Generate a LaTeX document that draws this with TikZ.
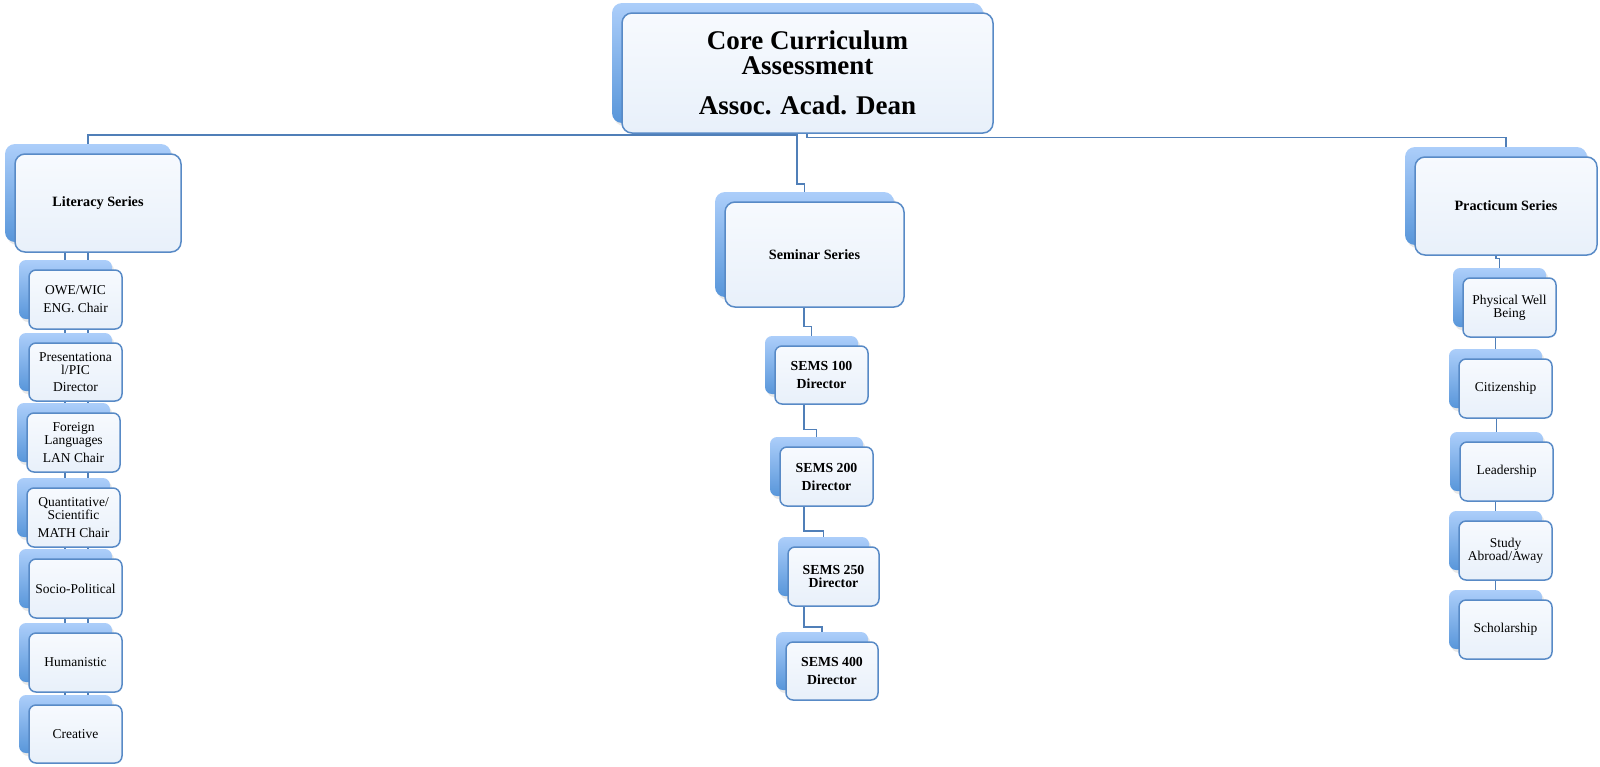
\documentclass[tikz,border=0pt]{standalone}
\usepackage{fontspec}
\setmainfont{Liberation Serif}
\usetikzlibrary{shadows}
\pgfdeclarelayer{conn}
\pgfdeclarelayer{back}
\pgfsetlayers{conn,back,main}
\definecolor{fborder}{RGB}{88,138,198}
\definecolor{ftop}{RGB}{247,250,254}
\definecolor{fbot}{RGB}{232,240,250}
\definecolor{btop}{RGB}{172,206,250}
\definecolor{bbot}{RGB}{88,150,218}
\definecolor{conncol}{RGB}{80,127,184}
\tikzset{
 front/.style={draw=fborder, line width=0.75pt, rounded corners=3.5pt, top color=ftop, bottom color=fbot, align=center, inner sep=1pt, text=black},
 backbox/.style={rounded corners=3.5pt, top color=btop, bottom color=bbot, draw=none, drop shadow={opacity=0.18, shadow xshift=1pt, shadow yshift=-1.5pt}},
 big/.style={rounded corners=5pt},
 conn/.style={draw=conncol, line width=0.7pt},
 topfont/.style={font=\bfseries\fontsize{13.5}{12.5}\selectfont},
 serfont/.style={font=\bfseries\fontsize{7.1}{7.5}\selectfont},
 semfont/.style={font=\bfseries\fontsize{6.9}{6.5}\selectfont},
 chfont/.style={font=\fontsize{6.75}{6.5}\selectfont},
}
\newcommand\cbox[7]{%
 \node[front,#6,minimum width={#4*0.5pt},minimum height={#5*0.5pt}] (#1) at ({#2+#4/2},{#3+#5/2}) {#7};
 \begin{pgfonlayer}{back}
 \node[backbox,#6,minimum width={#4*0.5pt},minimum height={#5*0.5pt}] (#1-b) at ({#2+#4/2-10},{#3+#5/2-10}) {};
 \end{pgfonlayer}}
\begin{document}
\begin{tikzpicture}[x=0.5pt,y=-0.5pt]
\useasboundingbox (0,0) rectangle (1600,766);
% top
\cbox{top}{622}{13}{371}{120}{topfont,big}{Core Curriculum\\Assessment\\[7.5pt]Assoc. Acad. Dean}
% series
\cbox{lit}{15}{154}{166}{98}{serfont,big}{Literacy Series}
\cbox{sem}{725}{202}{179}{105}{serfont,big}{Seminar Series}
\cbox{prac}{1415}{157}{182}{98}{serfont,big}{Practicum Series}
% literacy children
\cbox{owe}{29}{270}{93}{59}{chfont}{OWE/WIC\\[2.5pt]ENG. Chair}
\cbox{pres}{29}{343}{93}{58}{chfont}{Presentationa\\l/PIC\\[2pt]Director}
\cbox{forn}{27}{413}{93}{59}{chfont}{Foreign\\Languages\\[2.5pt]LAN Chair}
\cbox{quant}{27}{488}{93}{59}{chfont}{Quantitative/\\Scientific\\[2.5pt]MATH Chair}
\cbox{socio}{29}{559}{93}{59}{chfont}{Socio-Political}
\cbox{hum}{29}{633}{93}{59}{chfont}{Humanistic}
\cbox{crea}{29}{705}{93}{58}{chfont}{Creative}
% seminar children
\cbox{s1}{775}{346}{93}{58}{semfont}{SEMS 100\\[2.5pt]Director}
\cbox{s2}{780}{447}{93}{59}{semfont}{SEMS 200\\[2.5pt]Director}
\cbox{s3}{788}{547}{91}{59}{semfont}{SEMS 250\\Director}
\cbox{s4}{786}{642}{92}{58}{semfont}{SEMS 400\\[2.5pt]Director}
% practicum children
\cbox{phys}{1463}{278}{93}{59}{chfont}{Physical Well\\Being}
\cbox{cit}{1459}{359}{93}{59}{chfont}{Citizenship}
\cbox{lead}{1460}{442}{93}{59}{chfont}{Leadership}
\cbox{stud}{1459}{521}{93}{59}{chfont}{Study\\Abroad/Away}
\cbox{schol}{1459}{600}{93}{59}{chfont}{Scholarship}
% connectors
\begin{pgfonlayer}{conn}
\coordinate (xL1) at (65,0);
\coordinate (xL2) at (88,0);
\coordinate (xT) at (797,0);
\coordinate (xTR) at (807,0);
\coordinate (xS) at (804,0);
\coordinate (yH1) at (0,135);
\coordinate (yH2) at (0,137.5);
\coordinate (yS) at (0,184);
\draw[conn] (top.south -| xT) |- (yH1 -| lit-b.north) -- (lit-b.north);
\draw[conn] (top.south -| xT) |- (yS -| sem-b.north) -- (sem-b.north);
\draw[conn] (top.south -| xTR) |- (yH2 -| prac.north) -- (prac-b.north -| prac.north);
\foreach \a/\b in {lit/owe,owe/pres,pres/forn,forn/quant,quant/socio,socio/hum,hum/crea}{
 \draw[conn] (\a.south -| xL1) -- (\b-b.north -| xL1);
 \draw[conn] (\a.south -| xL2) -- (\b-b.north -| xL2);
}
\foreach \a/\b/\o in {sem/s1/4.5,s1/s2/3.5,s2/s3/2.75,s3/s4/2.25}{
 \draw[conn] (\a.south -| xS) |- ([yshift=\o pt]\b-b.north) -- (\b-b.north);
}
\draw[conn] (prac.south -| prac-b.south) |- ([yshift=4.5pt]phys-b.north) -- (phys-b.north);
\foreach \a/\b in {phys/cit,cit/lead,lead/stud,stud/schol}{
 \draw[conn] (\a.south -| \b-b.north) -- (\b-b.north);
}
\end{pgfonlayer}
\end{tikzpicture}
\end{document}
